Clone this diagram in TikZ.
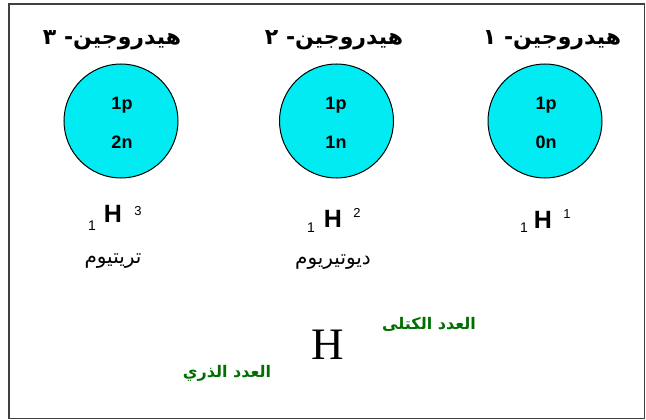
\documentclass[tikz,border=0pt]{standalone}
\usepackage{fontspec}
\setmainfont{Liberation Sans}
\newfontfamily\arabicfont[Script=Arabic]{DejaVu Sans}
\newfontfamily\serifH{Liberation Serif}
\TeXXeTstate=1
\definecolor{nucfill}{RGB}{0,236,242}
\definecolor{framegray}{RGB}{64,64,64}
\definecolor{labgreen}{RGB}{0,110,0}
\tikzset{
  frame/.style={draw=framegray, line width=1.5pt},
  nucleus/.style={circle, draw=black, line width=1pt, fill=nucfill, minimum size=114pt, inner sep=0pt},
  nuctext/.style={inner sep=0pt, font=\fontsize{18}{20}\selectfont\bfseries},
  title/.style={inner sep=0pt, font=\arabicfont\bfseries\fontsize{22}{24}\selectfont},
  symH/.style={inner sep=0pt, font=\fontsize{25}{27}\selectfont\bfseries},
  subn/.style={inner sep=0pt, font=\fontsize{14}{16}\selectfont},
  supn/.style={inner sep=0pt, font=\fontsize{13}{15}\selectfont},
  isoname/.style={inner sep=0pt, font=\arabicfont\fontsize{20}{22}\selectfont},
  bigH/.style={inner sep=0pt, font=\serifH\fontsize{45}{48}\selectfont},
  greenlab/.style={inner sep=0pt, text=labgreen, font=\arabicfont\bfseries\fontsize{16}{18}\selectfont}
}
\begin{document}
\begin{tikzpicture}[x=1pt,y=-1pt]
\useasboundingbox (0,0) rectangle (646,420);
\draw[frame] (9,4) rectangle (644.5,418.5);
% titles
\node[title] (t3) at (112,40) {\beginR هيدروجين- ٣\endR};
\node[title] (t2) at (334,40) {\beginR هيدروجين- ٢\endR};
\node[title] (t1) at (552,40) {\beginR هيدروجين- ١\endR};
% nuclei
\node[nucleus] (c3) at (121,121) {};
\node[nucleus] (c2) at (336.5,121) {};
\node[nucleus] (c1) at (545,121) {};
\node[nuctext] (p3) at (122,105) {1p};
\node[nuctext] (n3) at (122,142) {2n};
\node[nuctext] (p2) at (336,105) {1p};
\node[nuctext] (n2) at (336,142) {1n};
\node[nuctext] (p1) at (546,105) {1p};
\node[nuctext] (n1) at (546,142) {0n};
% symbols
\node[subn] (s3) at (92,226) {1};
\node[symH] (h3) at (113,214) {H};
\node[supn] (u3) at (138,211) {3};
\node[subn] (s2) at (311,228) {1};
\node[symH] (h2) at (333,219) {H};
\node[supn] (u2) at (357,213) {2};
\node[subn] (s1) at (524,228) {1};
\node[symH] (h1) at (543,220) {H};
\node[supn] (u1) at (567,214) {1};
% isotope names
\node[isoname] (w3) at (113,261) {\beginR تريتيوم\endR};
\node[isoname] (w2) at (333,262) {\beginR ديوتيريوم\endR};
% bottom
\node[bigH] (H) at (328,345) {H};
\node[greenlab] (mass) at (429,324) {\beginR العدد الكتلى\endR};
\node[greenlab] (atomic) at (227,373) {\beginR العدد الذري\endR};
\end{tikzpicture}
\end{document}
